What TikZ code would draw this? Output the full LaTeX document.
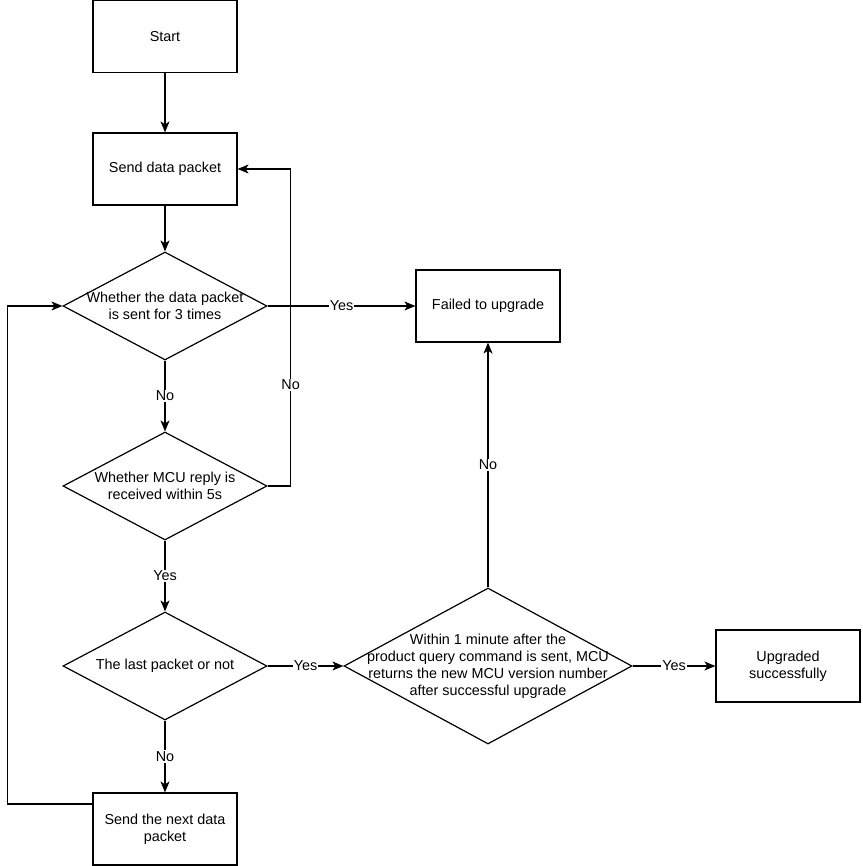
\documentclass[tikz,border=0pt]{standalone}
\usepackage{fontspec}
\setmainfont{Liberation Sans}
\usetikzlibrary{arrows.meta,positioning,shapes.geometric}

\tikzset{
  box/.style={draw,line width=1.2pt,minimum width=144pt,minimum height=72pt,align=center,inner sep=2pt},
  decision/.style={draw,diamond,line width=1.2pt,inner sep=0pt},
  flow/.style={line width=1.2pt,-{Stealth[length=11pt,width=9pt,inset=3pt]}},
  lbl/.style={fill=white,inner sep=1pt}
}

\begin{document}
\begin{tikzpicture}[x=1pt,y=-1pt,font=\fontsize{14.4}{17}\selectfont]
  \useasboundingbox[fill=white] (0,0) rectangle (862,866);

  % main column
  \node[box] (start) at (165,36.5) {Start};
  \node[box] (send) at (165,169) {Send data packet};
  \node[decision,minimum width=204pt,minimum height=108pt,
        label={[align=center]center:Whether the data packet\\is sent for 3 times}] (times) at (165,306) {};
  \node[decision,minimum width=204pt,minimum height=108pt,
        label={[align=center]center:Whether MCU reply is\\received within 5s}] (reply) at (165,486) {};
  \node[decision,minimum width=204pt,minimum height=108pt,
        label={[align=center]center:The last packet or not}] (last) at (165,666) {};
  \node[box] (next) at (165,829) {Send the next data\\packet};

  % right side
  \node[box] (failed) at (488,306) {Failed to upgrade};
  \node[decision,minimum width=288pt,minimum height=156pt,
        label={[align=center]center:Within 1 minute after the\\product query command is sent, MCU\\returns the new MCU version number\\after successful upgrade}] (version) at (488,666) {};
  \node[box] (done) at (788,666) {Upgraded\\successfully};

  % connectors
  \draw[flow] (start) -- (send);
  \draw[flow] (send) -- (times);
  \draw[flow] (times) -- node[lbl] {Yes} (failed);
  \draw[flow] (times) -- node[lbl] {No} (reply);
  \draw[flow] (reply.east) -- ++(23,0) |- node[lbl,pos=0.16] {No} (send.east);
  \draw[flow] (reply) -- node[lbl] {Yes} (last);
  \draw[flow] (last) -- node[lbl] {No} (next);
  \draw[flow] (last) -- node[lbl] {Yes} (version);
  \draw[flow] (version) -- node[lbl] {No} (failed);
  \draw[flow] (version) -- node[lbl] {Yes} (done);
  \draw[flow] ([yshift=25]next.west) -- ++(-85,0) |- (times.west);
\end{tikzpicture}
\end{document}
